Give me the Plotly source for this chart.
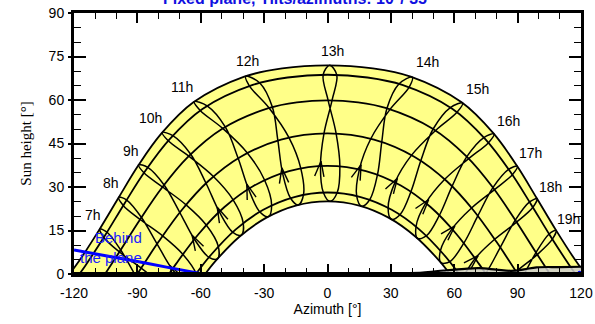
import math
import plotly.graph_objects as go

# ---------------- data ----------------
# Sun-path date curves (azimuth [deg], sun height [deg])
jun_az = [-122.1, -117.2, -108.0, -99.0, -89.6, -78.5, -63.5, -39.4, -21.45, 0, 21.45, 39.4, 63.5, 78.5, 89.6, 99.0, 108.0, 117.2, 122.1]
jun_h = [0, 4.9, 15.3, 26.2, 37.4, 48.55, 59.2, 68.06, 70.9, 71.97, 70.9, 68.06, 59.2, 48.55, 37.4, 26.2, 15.3, 4.9, 0]

may_az = [-117.45, -114.8, -105.4, -96.15, -86.3, -74.7, -59.2, -35.4, -18.9, 0, 18.9, 35.4, 59.2, 74.7, 86.3, 96.15, 105.4, 114.8, 117.45]
may_h = [0, 2.7, 13.2, 24.25, 35.5, 46.5, 56.9, 65.2, 67.76, 68.7, 67.76, 65.2, 56.9, 46.5, 35.5, 24.25, 13.2, 2.7, 0]

apr_az = [-105.3, -98.6, -88.8, -78.2, -65.8, -49.8, -27.9, -14.5, 0, 14.5, 27.9, 49.8, 65.8, 78.2, 88.8, 98.6, 105.3]
apr_h = [0, 7.5, 18.7, 29.9, 40.55, 50.1, 57.2, 59.2, 59.9, 59.2, 57.2, 50.1, 40.55, 29.9, 18.7, 7.5, 0]

mar_az = [-90, -79.9, -69.07, -56.5, -41.07, -22.0, 0, 22.0, 41.07, 56.5, 69.07, 79.9, 90]
mar_h = [0, 11.17, 22.0, 31.98, 40.45, 46.35, 48.5, 46.35, 40.45, 31.98, 22.0, 11.17, 0]

feb_az = [-75.0, -71.7, -61.0, -48.9, -34.7, -18.2, 0, 18.2, 34.7, 48.9, 61.0, 71.7, 75.0]
feb_h = [0, 3.5, 13.8, 23.0, 30.5, 35.5, 37.3, 35.5, 30.5, 23.0, 13.8, 3.5, 0]

jan_az = [-62.3, -54.8, -43.4, -30.4, -15.7, 0, 15.7, 30.4, 43.4, 54.8, 62.3]
jan_h = [0, 6.9, 15.4, 22.15, 26.55, 28.1, 26.55, 22.15, 15.4, 6.9, 0]

dec_az = [-57.9, -52.85, -41.7, -29.1, -15.0, 0, 15.0, 29.1, 41.7, 52.85, 57.9]
dec_h = [0, 4.6, 12.85, 19.35, 23.6, 25.05, 23.6, 19.35, 12.85, 4.6, 0]

# Hour lines (analemma loops through the year)
hour_labels = ["7h", "8h", "9h", "10h", "11h", "12h", "13h", "14h", "15h", "16h", "17h", "18h", "19h"]
h07_az = [-83.3, -90.7, -97.9, -104.35, -107.8, -105.9, -98.5, -88.2, -78.4]
h07_h = [-9.4, -0.8, 8.3, 14.4, 15.55, 12.6, 7.6, 2.0, -3.6]
h08_az = [-66.2, -73.5, -80.7, -88.05, -95.05, -98.8, -96.7, -88.7, -78.0, -68.5, -62.2, -62.0]
h08_h = [-4.1, 1.64, 10.4, 19.5, 25.5, 26.45, 23.65, 18.8, 13.1, 6.8, 0.05, -4.1]
h09_az = [-52.0, -56.1, -63.05, -69.9, -77.35, -85.1, -89.4, -86.9, -78.1, -66.95, -57.4, -51.7, -52.0]
h09_h = [5.3, 5.75, 12.05, 21.2, 30.7, 36.75, 37.65, 34.9, 30.0, 23.85, 16.9, 9.55, 5.3]
h10_az = [-40.75, -44.9, -51.25, -57.5, -64.75, -73.2, -78.2, -75.4, -65.65, -54.0, -44.75, -39.9, -40.75]
h10_h = [13.44, 14.45, 21.5, 31.3, 41.3, 47.7, 48.8, 45.95, 40.65, 33.6, 25.65, 17.6, 13.44]
h11_az = [-28.0, -32.1, -37.45, -42.3, -48.4, -57.0, -63.05, -60.25, -49.6, -37.95, -29.85, -26.45, -28.0]
h11_h = [19.8, 21.45, 29.4, 39.9, 50.7, 57.95, 59.43, 56.4, 50.2, 41.75, 32.5, 23.75, 19.8]
h12_az = [-13.85, -17.55, -21.3, -23.5, -26.1, -32.05, -38.7, -37.0, -27.65, -18.3, -12.7, -11.35, -13.85]
h12_h = [23.83, 26.2, 34.9, 46.05, 57.55, 65.85, 68.2, 64.9, 57.25, 47.1, 36.6, 27.4, 23.83]
h13_az = [1.2, -1.97, -3.33, -1.66, 2.15, 4.4, 1.0, -2.06, 0.3, 4.07, 5.86, 4.57, 1.2]
h13_h = [25.05, 28.1, 37.25, 48.5, 59.9, 68.65, 71.97, 68.7, 59.9, 48.5, 37.1, 28.0, 25.05]
h14_az = [16.15, 13.8, 15.1, 20.5, 29.7, 38.75, 40.1, 33.8, 28.15, 25.7, 23.7, 20.05, 16.15]
h14_h = [23.37, 26.9, 36.1, 46.65, 56.85, 64.55, 67.9, 65.5, 57.15, 45.6, 34.4, 25.7, 23.37]
h15_az = [30.2, 28.7, 31.95, 39.8, 51.2, 61.4, 63.95, 58.15, 50.0, 44.2, 39.55, 34.4, 30.2]
h15_h = [18.9, 22.85, 31.6, 40.98, 49.5, 55.85, 58.97, 57.4, 50.0, 39.15, 28.5, 20.55, 18.9]
h16_az = [42.65, 41.9, 46.55, 55.5, 66.85, 76.2, 78.8, 74.0, 65.95, 59.0, 53.05, 46.9, 42.65]
h16_h = [12.26, 16.35, 24.5, 32.66, 39.8, 45.3, 48.3, 47.05, 40.45, 30.3, 20.35, 13.2, 12.26]
h17_az = [53.7, 53.45, 58.95, 68.2, 79.05, 87.5, 89.8, 85.7, 78.3, 71.2, 64.6, 57.9, 53.7]
h17_h = [3.9, 8.05, 15.55, 22.76, 29.1, 34.25, 37.15, 36.1, 29.8, 20.1, 10.7, 4.25, 3.9]
h18_az = [63.8, 69.9, 79.13, 89.55, 97.25, 99.2, 95.65, 88.9, 81.8, 74.9, 67.8]
h18_h = [-1.6, 5.36, 11.97, 17.9, 23.0, 25.95, 24.85, 18.6, 9.2, 0.22, -5.8]
h19_az = [79.8, 89.27, 99.3, 106.45, 108.2, 104.9, 98.7, 91.8]
h19_h = [-5.4, 0.83, 6.7, 12.0, 15.05, 13.8, 7.4, -2.0]

# small arrow marks on the hour lines (tip position, tilt from vertical in degrees)
arrow_az = [-74.6, -64.1, -52.2, -38.2, -21.6, -3.1, 15.9, 33.1, 47.9, 60.3, 71.3]
arrow_h = [2.95, 13.4, 23.0, 31.0, 36.6, 38.9, 37.7, 33.0, 25.7, 16.6, 6.35]
arrow_tilt = [-31, -28.7, -24.9, -18.5, -8.2, 6.1, 20.4, 31.4, 38.6, 43, 45.5]

# Horizon profile
hor_az = [-120, 20, 35, 45, 55, 65, 72, 80, 87, 93, 99, 110, 120]
hor_h = [0, 0, 0.3, 0.5, 1.2, 1.8, 2.0, 1.5, 1.1, 1.6, 2.3, 2.4, 2.5]

# "Behind the plane" limit
behind_az = [-120, -105, -90, -75, -59]
behind_h = [8.3, 6.3, 4.3, 2.2, 0]

x_ticks = [-120, -90, -60, -30, 0, 30, 60, 90, 120]
x_tick_text = ["-120", "-90", "-60", "-30", "0", "30", "60", "90", "120"]
y_ticks = [0, 15, 30, 45, 60, 75, 90]

# label anchor positions (layout)
label_pos = [(-111.0, 20.3), (-102.6, 31.4), (-93.1, 42.5), (-83.7, 53.8), (-68.8, 64.4),
             (-38.1, 73.6), (2.4, 77.0), (47.5, 73.0), (71.1, 63.7), (85.6, 52.8),
             (96.3, 41.6), (105.7, 30.1), (114.3, 19.0)]

# ---------------- figure ----------------
W, H = 595, 324
ML, MR, MT, MB = 74, 14, 13, 50
px_x = (W - ML - MR) / 240.0   # pixels per degree azimuth
px_y = (H - MT - MB) / 90.0    # pixels per degree height

fig = go.Figure()

# yellow band between the two solstice paths
fill_x = jun_az + [121.0, 59.0] + dec_az[::-1]
fill_y = jun_h + [-3, -3] + dec_h[::-1]
fig.add_trace(go.Scatter(x=fill_x, y=fill_y, mode="lines", fill="toself",
                         fillcolor="#ffff88", line=dict(width=0, shape="spline"),
                         hoverinfo="skip", showlegend=False))

line_style = dict(color="black", width=1.8, shape="spline")
for az, h in [(jun_az, jun_h), (may_az, may_h), (apr_az, apr_h), (mar_az, mar_h),
              (feb_az, feb_h), (jan_az, jan_h), (dec_az, dec_h)]:
    fig.add_trace(go.Scatter(x=az, y=h, mode="lines", line=line_style,
                             hoverinfo="skip", showlegend=False))

hours = [(h07_az, h07_h), (h08_az, h08_h), (h09_az, h09_h), (h10_az, h10_h),
         (h11_az, h11_h), (h12_az, h12_h), (h13_az, h13_h), (h14_az, h14_h),
         (h15_az, h15_h), (h16_az, h16_h), (h17_az, h17_h), (h18_az, h18_h),
         (h19_az, h19_h)]
for az, h in hours:
    fig.add_trace(go.Scatter(x=az, y=h, mode="lines",
                             line=dict(color="black", width=1.5, shape="spline"),
                             hoverinfo="skip", showlegend=False))

# arrow heads (open "^" shapes) drawn in screen proportions
leg_len, half_ang = 16.0, 17.0
ax_pts, ay_pts = [], []
for a, e, t in zip(arrow_az, arrow_h, arrow_tilt):
    for side in (-1, 1):
        ang = math.radians(t + 180 + side * half_ang)
        dx = leg_len * math.sin(ang) / px_x
        dy = leg_len * math.cos(ang) / px_y
        ax_pts += [a + dx, a, None]
        ay_pts += [e + dy, e, None]
fig.add_trace(go.Scatter(x=ax_pts, y=ay_pts, mode="lines",
                         line=dict(color="black", width=1.4),
                         hoverinfo="skip", showlegend=False))

# horizon
fig.add_trace(go.Scatter(x=hor_az, y=hor_h, mode="lines", fill="tozeroy",
                         fillcolor="rgba(205,205,205,0.85)",
                         line=dict(color="black", width=2.2, shape="spline"),
                         hoverinfo="skip", showlegend=False))

# behind the plane
fig.add_trace(go.Scatter(x=behind_az, y=behind_h, mode="lines",
                         line=dict(color="#0000ff", width=3, shape="spline"),
                         hoverinfo="skip", showlegend=False))
fig.add_trace(go.Scatter(x=[119.3], y=[0.4], mode="markers",
                         marker=dict(color="#0000ff", size=4),
                         cliponaxis=False, hoverinfo="skip", showlegend=False))

# outer stubs of the left major ticks
fig.add_trace(go.Scatter(x=[None], y=[None], yaxis="y2", showlegend=False))

font_sans = "Liberation Sans, Arial, sans-serif"
annotations = []
for txt, (ax, ay) in zip(hour_labels, label_pos):
    annotations.append(dict(x=ax, y=ay, text=txt, showarrow=False,
                            font=dict(family=font_sans, size=14, color="black"),
                            xanchor="center", yanchor="middle"))
annotations.append(dict(x=-87, y=9.3, text="Behind<br>the plane", showarrow=False,
                        align="right", xanchor="right", yanchor="middle",
                        font=dict(family=font_sans, size=15, color="#1a1aff")))
plot_w = W - ML - MR
plot_h = H - MT - MB
annotations.append(dict(xref="paper", yref="paper", x=(297.5 - ML) / plot_w,
                        y=1 + 14.0 / plot_h,
                        text="<b>Fixed plane, Tilts/azimuths: 10°/ 35°</b>",
                        showarrow=False, xanchor="center", yanchor="middle",
                        font=dict(family=font_sans, size=16, color="#1010e0")))

fig.update_layout(
    width=W, height=H,
    margin=dict(l=ML, r=MR, t=MT, b=MB),
    paper_bgcolor="white", plot_bgcolor="white",
    showlegend=False,
    annotations=annotations,
    xaxis=dict(range=[-120, 120], tickvals=x_ticks, ticktext=x_tick_text,
               automargin=False,
               ticks="inside", ticklen=10, tickwidth=1.5, tickcolor="black",
               minor=dict(dtick=10, ticks="inside", ticklen=6, tickwidth=1.2, tickcolor="black"),
               showline=True, linewidth=3, linecolor="black", mirror="ticks",
               showgrid=False, zeroline=False,
               tickfont=dict(family=font_sans, size=14, color="black"),
               ticklabelstandoff=4,
               title=dict(text="Azimuth [°]", font=dict(family=font_sans, size=14, color="black"),
                          standoff=5)),
    yaxis=dict(range=[0, 90], tickvals=y_ticks, automargin=False,
               ticks="inside", ticklen=12, tickwidth=1.5, tickcolor="black",
               minor=dict(dtick=5, ticks="inside", ticklen=7, tickwidth=1.2, tickcolor="black"),
               showline=True, linewidth=3, linecolor="black", mirror="ticks",
               showgrid=False, zeroline=False,
               tickfont=dict(family=font_sans, size=14, color="black"),
               ticklabelstandoff=4,
               title=dict(text="Sun height [°]",
                          font=dict(family="Liberation Serif, Times New Roman, serif", size=15, color="black"),
                          standoff=14)),
    yaxis2=dict(range=[0, 90], tickvals=y_ticks, overlaying="y", side="left",
                automargin=False,
                ticks="outside", ticklen=5, tickwidth=1.5, tickcolor="black",
                showticklabels=False, showgrid=False, zeroline=False, showline=False),
    shapes=[dict(type="line", xref="x", yref="y", x0=-120, x1=120, y0=0, y1=0,
                 line=dict(color="black", width=4), layer="above")],
)

# remove the default page margin so the figure sits at the window's top-left corner
fig.write_html("out.html",
               config={"displayModeBar": False},
               post_script="document.body.style.margin='0';document.documentElement.style.overflow='hidden';")
